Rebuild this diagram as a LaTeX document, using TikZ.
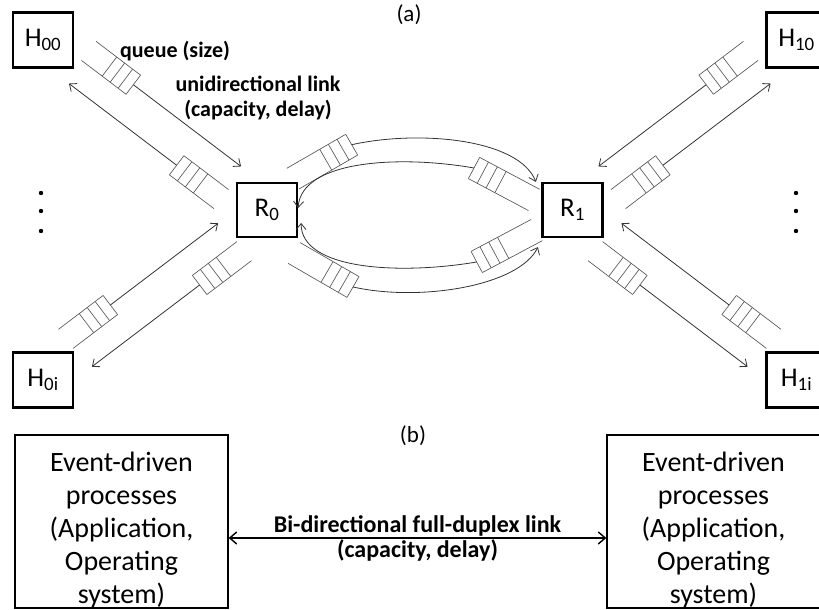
\documentclass[tikz,border=0pt]{standalone}
\usepackage{fontspec}
\setmainfont{Carlito}
\usepackage{tikz}
\usetikzlibrary{arrows.meta,positioning,calc}
\definecolor{LinkInk}{HTML}{333333}
\definecolor{QueueInk}{HTML}{555555}
\tikzset{
  qlen/.store in=\qlen, qlen=56,
  qbuf/.pic={
    \draw[QueueInk, line width=0.65pt] (-\qlen,12) -- (0,12) (-\qlen,-12) -- (0,-12);
    \foreach \k in {0,10,20,30} \draw[QueueInk, line width=0.65pt] (-\k,-12) -- (-\k,12);
  }
}
\newcommand{\hostlink}[4]{%
  \pic[rotate=#3] at ($(#1)+(#3:99)+(#3#4:19)$) {qbuf};
  \draw[link] ($(#1)+(#3:99)+(#3#4:19)$) -- ($(#2)+(#3+180:47)+(#3#4:19)$);
}

\begin{document}
\begin{tikzpicture}[x=1pt, y=1pt, every node/.style={font=\fontsize{23}{27}\selectfont},
  netbox/.style={draw, line width=2.2pt, minimum width=60pt, minimum height=55pt, inner sep=0pt, font=\fontsize{27}{30}\selectfont},
  procbox/.style={draw, line width=1.3pt, minimum width=213pt, minimum height=173pt},
  proctext/.style={align=center, font=\fontsize{28}{33}\selectfont},
  link/.style={LinkInk, line width=0.8pt, -{Straight Barb[length=6pt,width=10pt]}},
  duplex/.style={line width=1.4pt, {Straight Barb[length=7pt,width=12pt]}-{Straight Barb[length=7pt,width=12pt]}},
  note/.style={font=\bfseries\fontsize{22}{25}\selectfont}]
\useasboundingbox (0,0) rectangle (819,610);

% (a) hosts and routers
\node (cap-a) at (409,595) {(a)};
\node[netbox] (H00) at (43,570) {H\textsubscript{00}};
\node[netbox] (H0i) at (43,230) {H\textsubscript{0i}};
\node[netbox] (H10) at (796.5,570) {H\textsubscript{10}};
\node[netbox] (H1i) at (796.5,230) {H\textsubscript{1i}};
\node[netbox, minimum height=54pt] (R0) at (267,400) {R\textsubscript{0}};
\node[netbox, minimum height=54pt] (R1) at (572.5,400) {R\textsubscript{1}};
\foreach \y in {417,399,379} {
  \fill (41,\y) circle (2.2);
  \fill (796,\y) circle (2.2);
}

\node[note] (qlab) at (175,559) {queue (size)};
\node[note, align=center] (llab) at (258,512) {unidirectional link\\(capacity, delay)};

% host links, one queue per direction
\hostlink{H00}{R0}{-37.2}{+90}
\hostlink{R0}{H00}{142.8}{+90}
\hostlink{H0i}{R0}{37.2}{+90}
\hostlink{R0}{H0i}{217.2}{+90}
\hostlink{H10}{R1}{217.2}{-90}
\hostlink{R1}{H10}{37.2}{-90}
\hostlink{H1i}{R1}{142.8}{-90}
\hostlink{R1}{H1i}{-37.2}{-90}

% router links
\coordinate (qo1) at (351.7,465.3);
\coordinate (qo2) at (353,323);
\coordinate (qi1) at (474,442);
\coordinate (qi2) at (476.7,348);
\pic[rotate=30, qlen=68] at (qo1) {qbuf};
\pic[rotate=-30, qlen=68] at (qo2) {qbuf};
\pic[rotate=152, qlen=68] at (qi1) {qbuf};
\pic[rotate=208, qlen=68] at (qi2) {qbuf};
\draw[link] (qo1) .. controls +(68,15) and +(-17,43) .. ([xshift=-5.5pt]R1.north west);
\draw[link] (qo2) .. controls +(67,-15) and +(-19,-39) .. ([shift={(-3.5pt,-9pt)}]R1.south west);
\draw[link] (qi1) .. controls +(-74,13) and +(3,48) .. ([yshift=2pt]R0.east);
\draw[link] (qi2) .. controls +(-77,-13) and +(0,-47) .. ([shift={(3pt,-13pt)}]R0.east);

% (b) end systems
\node (cap-b) at (413,174) {(b)};
\node[procbox] (procL) at (121.5,88.5) {};
\node[procbox] (procR) at (713.5,88.5) {};
\node[proctext] (txtL) at ([yshift=-9pt]procL.center) {Event-driven\\processes\\(Application,\\Operating\\system)};
\node[proctext] (txtR) at ([yshift=-9pt]procR.center) {Event-driven\\processes\\(Application,\\Operating\\system)};
\draw[duplex] ([yshift=-16.5pt]procL.east) -- ([yshift=-16.5pt]procR.west)
  node[midway, above=-2pt, note, font=\bfseries\fontsize{24}{27}\selectfont] (dlab) {Bi-directional full-duplex link}
  node[midway, below=-2pt, note, font=\bfseries\fontsize{24}{27}\selectfont] (dcap) {(capacity, delay)};
\end{tikzpicture}
\end{document}
